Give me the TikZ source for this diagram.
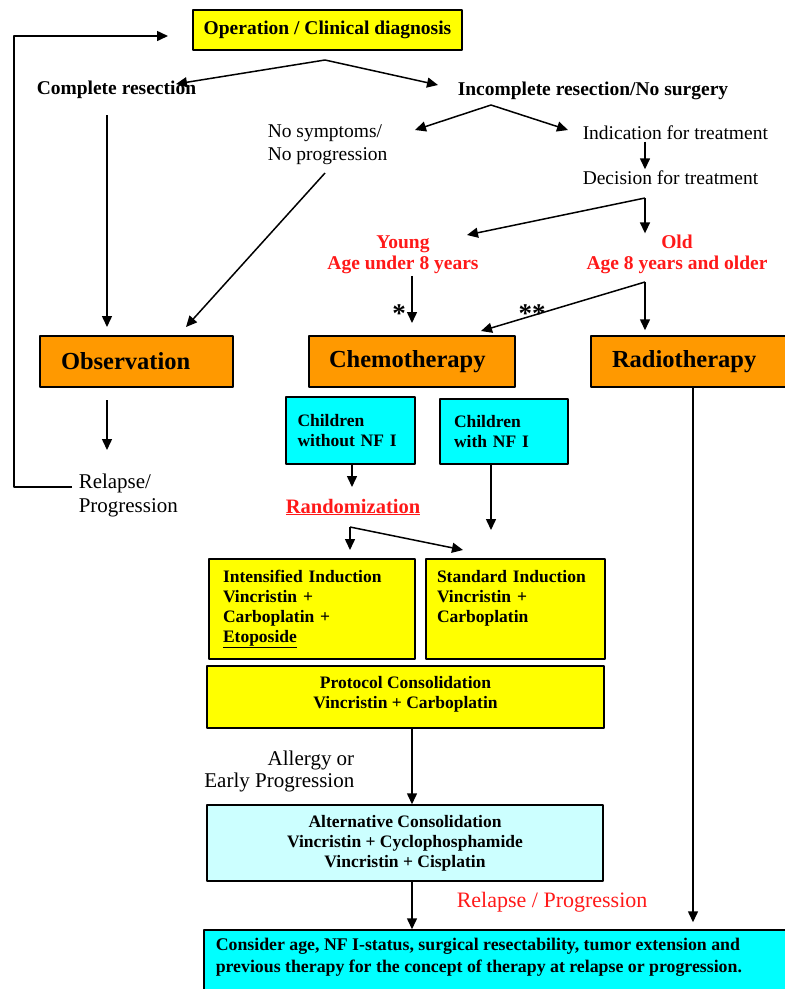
\documentclass[tikz,border=0pt]{standalone}
\usepackage{fontspec}
\setmainfont{Liberation Serif}
\usetikzlibrary{arrows.meta}
\definecolor{opyellow}{RGB}{255,255,0}
\definecolor{theraorange}{RGB}{255,153,0}
\definecolor{nfcyan}{RGB}{0,255,255}
\definecolor{altcyan}{RGB}{204,255,255}
\definecolor{agered}{RGB}{255,25,25}
\tikzset{
  box/.style={draw, line width=1.5pt, inner sep=0pt},
  therapy/.style={box, fill=theraorange, minimum height=51pt, align=left,
    font=\fontsize{24.5}{28}\selectfont\bfseries},
  lab/.style={inner sep=1pt, align=left, font=\fontsize{19.5}{23}\selectfont},
  labb/.style={inner sep=1pt, font=\fontsize{19.5}{23}\selectfont\bfseries},
  redlab/.style={inner sep=1pt, align=center, text=agered,
    font=\fontsize{19.5}{21}\selectfont\bfseries},
  small/.style={font=\fontsize{17.5}{20}\selectfont\bfseries},
  starlab/.style={inner sep=1pt, anchor=base, font=\fontsize{27}{30}\selectfont\bfseries},
}
\begin{document}
\begin{tikzpicture}[x=1pt, y=-1pt, line width=1.5pt, line join=round,
  >={Triangle[length=11pt,width=10pt]}]
\useasboundingbox (0,0) rectangle (785,989);
\path (325,60) coordinate (opfork) (176,84) coordinate (comptip)
  (438,85) coordinate (inctip) (491,105) coordinate (incfork)
  (415,130) coordinate (nstip) (568,130) coordinate (indtip)
  (645,198) coordinate (decfork) (467,235) coordinate (youngtip)
  (412,323) coordinate (chemotip) (645,282) coordinate (oldfork)
  (481,331) coordinate (chemotip2)
  (107,115) coordinate (compdown) (107,327) coordinate (obstip)
  (325,173) coordinate (nosymdown) (186,327) coordinate (obstip2)
  (107,400) coordinate (obsout) (107,450) coordinate (reltip)
  (72,487) coordinate (relback) (14,487) coordinate (loopcorner)
  (168,36) coordinate (opin)
  (352,487) coordinate (randtip) (491,530) coordinate (nfyestip)
  (350,527) coordinate (randfork) (350,550) coordinate (intip)
  (463,550) coordinate (stdtip)
  (412,0) coordinate (spine) (693,0) coordinate (radline);

% top
\node[box, fill=opyellow, minimum width=269pt, minimum height=40pt, labb]
  (oper) at (327.5,30) {Operation / Clinical diagnosis};
\node[labb, anchor=west] (compres) at (35,90) {Complete resection};
\node[labb, anchor=west] (incres) at (456,91) {Incomplete resection/No surgery};
\node[lab, anchor=west] (nosym) at (266,144.5) {No symptoms/\\No progression};
\node[lab, anchor=west] (indic) at (581,133) {Indication for treatment};
\node[lab, anchor=west] (decis) at (581,178) {Decision for treatment};
\node[redlab] (young) at (403,255) {Young\\Age under 8 years};
\node[redlab] (old) at (677,254.5) {Old\\Age 8 years and older};
\node[starlab] (onestar) at (399,322) {*};
\node[starlab] (twostar) at (532,322) {**};

% therapies
\node[therapy, minimum width=193pt, text width=151pt] (obs) at (136.5,361.5) {Observation};
\node[therapy, minimum width=206pt, text width=166pt] (chemo) at (412,361.5) {Chemotherapy};
\node[therapy, minimum width=201pt, text width=159pt] (radio) at (691.5,361.5) {Radiotherapy};
\node[lab, anchor=west, font=\fontsize{21}{24}\selectfont]
  (relapse) at (77,495) {Relapse/\\Progression};

% chemotherapy branch
\node[box, fill=nfcyan, minimum width=129pt, minimum height=67pt, small,
  text width=106pt, align=left] (nfno) at (350.5,430.5) {Children\\without NF I};
\node[box, fill=nfcyan, minimum width=128pt, minimum height=65pt, small,
  text width=100pt, align=left] (nfyes) at (504,431.5) {Children\\with NF I};
\node[redlab, font=\fontsize{20.5}{24}\selectfont\bfseries]
  (rand) at (353,507) {\underline{Randomization}};
\node[box, fill=opyellow, minimum width=206pt, minimum height=100pt, small,
  text width=178pt, align=left] (intens) at (312,609)
  {Intensified Induction\\Vincristin +\\Carboplatin +\\\underline{Etoposide}};
\node[box, fill=opyellow, minimum width=179pt, minimum height=100pt, small,
  text width=157pt, align=left] (stand) at (515.5,609)
  {Standard Induction\\Vincristin +\\Carboplatin\\\rule[-6pt]{0pt}{6pt}};
\node[box, fill=opyellow, minimum width=397pt, minimum height=62pt, small,
  align=center] (proto) at (405.5,697)
  {Protocol Consolidation\\Vincristin + Carboplatin\\[-10pt]};
\node[lab, anchor=east, align=right, font=\fontsize{21}{22}\selectfont]
  (allergy) at (356,771) {Allergy or\\Early Progression};
\node[box, fill=altcyan, minimum width=396pt, minimum height=76pt, small,
  align=center] (altcons) at (405,843)
  {Alternative Consolidation\\Vincristin + Cyclophosphamide\\Vincristin + Cisplatin};
\node[lab, anchor=west, text=agered, font=\fontsize{22}{24}\selectfont]
  (redrel) at (455,902) {Relapse / Progression};
\node[box, fill=nfcyan, minimum width=590pt, minimum height=70pt]
  (finalbox) at (499,965) {};
\node[anchor=west, inner sep=0pt, align=left,
  font=\fontsize{17.8}{22}\selectfont\bfseries] (finaltxt) at (215,957)
  {Consider age, NF I-status, surgical resectability, tumor extension and\\
   previous therapy for the concept of therapy at relapse or progression.};

% connectors
\draw[->] (opfork) -- (comptip);
\draw[->] (opfork) -- (inctip);
\draw[->] (incfork) -- (nstip);
\draw[->] (incfork) -- (indtip);
\draw[->] (indic.south -| decfork) -- (decis.north -| decfork);
\draw[->] (decfork) -- (old.north -| decfork);
\draw[->] (decfork) -- (youngtip);
\draw[->] (young.south -| chemotip) -- (chemotip);
\draw[->, shorten >=5pt] (oldfork) -- (radio.north -| oldfork);
\draw[->] (oldfork) -- (chemotip2);
\draw[->] (compdown) -- (obstip);
\draw[->] (nosymdown) -- (obstip2);
\draw[->] (obsout) -- (reltip);
\draw[->] (relback) -- (loopcorner) |- (opin);
\draw[->] (nfno.south -| randtip) -- (randtip);
\draw[->] (nfyes.south -| nfyestip) -- (nfyestip);
\draw[->] (randfork) -- (intip);
\draw[->] (randfork) -- (stdtip);
\draw[->] (proto.south -| spine) -- (altcons.north -| spine);
\draw[->] (altcons.south -| spine) -- (finalbox.north -| spine);
\draw[->, shorten >=7pt] (radio.south -| radline) -- (finalbox.north -| radline);
\end{tikzpicture}
\end{document}
